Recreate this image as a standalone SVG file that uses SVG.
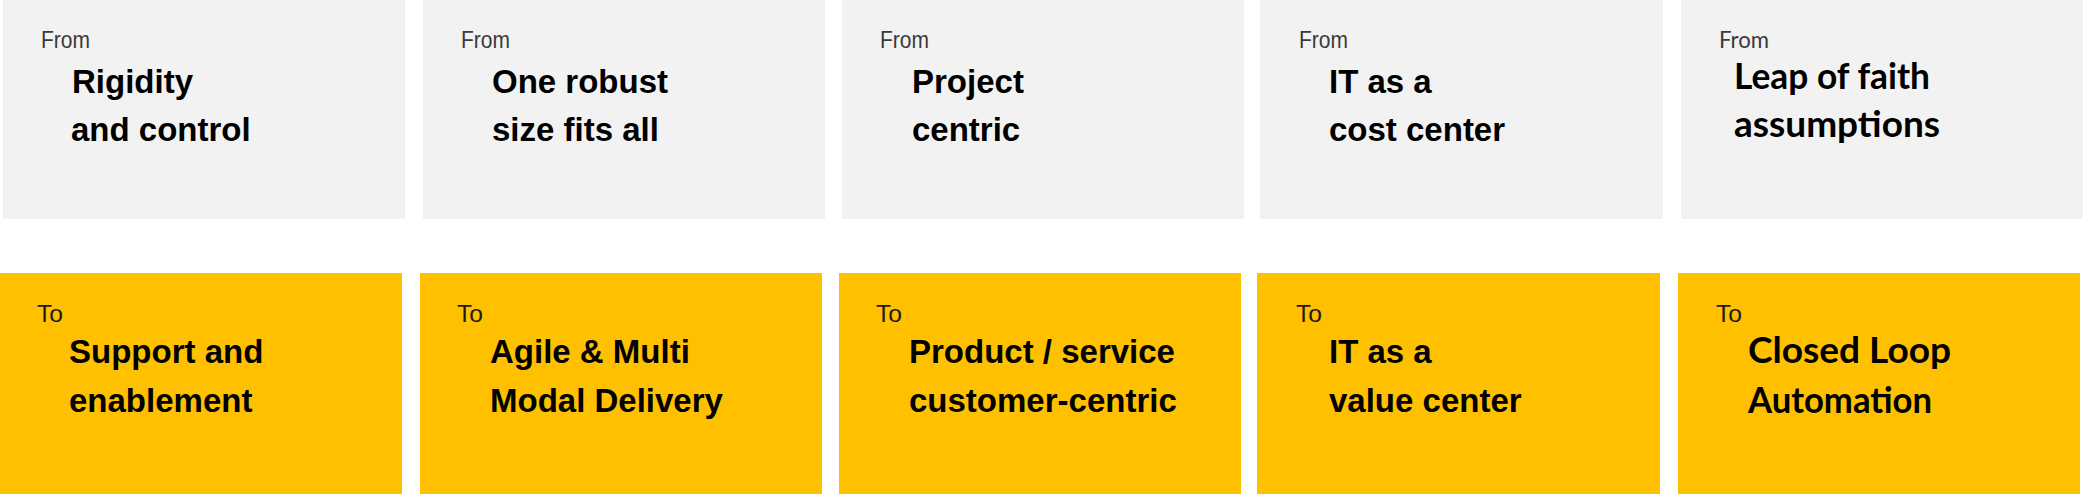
<svg xmlns="http://www.w3.org/2000/svg" width="2083" height="494" viewBox="0 0 2083 494">
<style>
.from{fill:#F2F2F2}
.to{fill:#FFC000}
.lbl{font-family:"Liberation Sans",Arial,sans-serif;font-size:24px;fill:#3a3a3a}
.lbl2{font-family:"Liberation Sans",Arial,sans-serif;font-size:24px;fill:#1a1a1a}
.main{font-family:"Liberation Sans",Arial,sans-serif;font-size:33px;font-weight:bold;fill:#000}
.geo{font-family:Lato,"Liberation Sans",sans-serif;font-size:36px;font-weight:bold;fill:#000}
.geol{font-family:Lato,"Liberation Sans",sans-serif;font-size:24px;fill:#3a3a3a}
</style>
<rect width="2083" height="494" fill="#fff"/>
<g id="from1"><rect class="from" x="3" y="0" width="402" height="219"/>
<text class="lbl" x="41" y="48" textLength="49" lengthAdjust="spacingAndGlyphs">From</text>
<text class="main" x="72" y="92.5">Rigidity</text><text class="main" x="71" y="141">and control</text></g>
<g id="from2"><rect class="from" x="423" y="0" width="402" height="219"/>
<text class="lbl" x="461" y="48" textLength="49" lengthAdjust="spacingAndGlyphs">From</text>
<text class="main" x="492" y="92.5">One robust</text><text class="main" x="492" y="141">size fits all</text></g>
<g id="from3"><rect class="from" x="842" y="0" width="402" height="219"/>
<text class="lbl" x="880" y="48" textLength="49" lengthAdjust="spacingAndGlyphs">From</text>
<text class="main" x="912" y="92.5">Project</text><text class="main" x="912" y="141">centric</text></g>
<g id="from4"><rect class="from" x="1260" y="0" width="403" height="219"/>
<text class="lbl" x="1299" y="48" textLength="49" lengthAdjust="spacingAndGlyphs">From</text>
<text class="main" x="1329" y="92.5">IT as a</text><text class="main" x="1329" y="141">cost center</text></g>
<g id="from5"><rect class="from" x="1681" y="0" width="402" height="219"/>
<text class="geol" x="1719" y="48" textLength="50" lengthAdjust="spacingAndGlyphs">From</text>
<text class="geo" x="1734" y="89" textLength="196" lengthAdjust="spacingAndGlyphs">Leap of faith</text><text class="geo" x="1734" y="137" textLength="206" lengthAdjust="spacingAndGlyphs">assumptions</text></g>
<g id="to1"><rect class="to" x="0" y="273" width="402" height="221"/>
<text class="lbl2" x="37" y="321.5" textLength="26" lengthAdjust="spacingAndGlyphs">To</text>
<text class="main" x="69" y="363">Support and</text><text class="main" x="69" y="411.5">enablement</text></g>
<g id="to2"><rect class="to" x="420" y="273" width="402" height="221"/>
<text class="lbl2" x="457" y="321.5" textLength="26" lengthAdjust="spacingAndGlyphs">To</text>
<text class="main" x="490" y="363">Agile &amp; Multi</text><text class="main" x="490" y="411.5">Modal Delivery</text></g>
<g id="to3"><rect class="to" x="839" y="273" width="402" height="221"/>
<text class="lbl2" x="876" y="321.5" textLength="26" lengthAdjust="spacingAndGlyphs">To</text>
<text class="main" x="909" y="363">Product / service</text><text class="main" x="909" y="411.5">customer-centric</text></g>
<g id="to4"><rect class="to" x="1257" y="273" width="403" height="221"/>
<text class="lbl2" x="1296" y="321.5" textLength="26" lengthAdjust="spacingAndGlyphs">To</text>
<text class="main" x="1329" y="363">IT as a</text><text class="main" x="1329" y="411.5">value center</text></g>
<g id="to5"><rect class="to" x="1678" y="273" width="402" height="221"/>
<text class="lbl2" x="1716" y="321.5" textLength="26" lengthAdjust="spacingAndGlyphs">To</text>
<text class="geo" x="1748" y="363" textLength="203" lengthAdjust="spacingAndGlyphs">Closed Loop</text><text class="geo" x="1748" y="412.5" textLength="184" lengthAdjust="spacingAndGlyphs">Automation</text></g>
<g id="connectors"/>
</svg>
